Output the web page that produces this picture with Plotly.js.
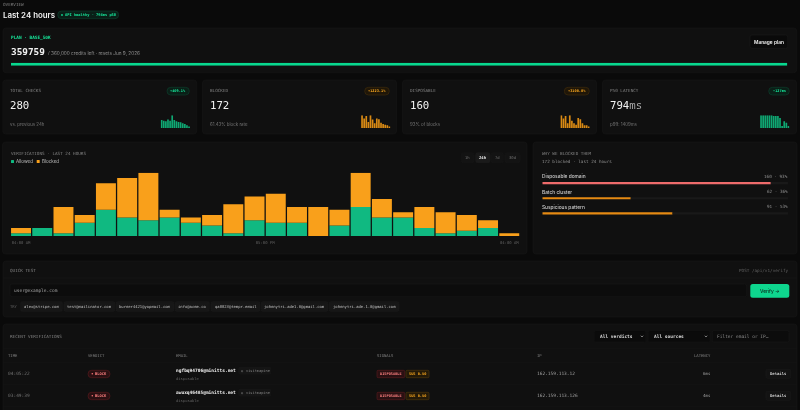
<!DOCTYPE html>
<html><head><meta charset="utf-8">
<script src="https://cdn.plot.ly/plotly-3.0.1.min.js"></script>
<style>html,body{margin:0;padding:0;background:#0a0a0a;overflow:hidden}#chart{width:800px;height:410px;filter:blur(0.3px)}
.point path{shape-rendering:geometricPrecision !important}</style>
</head><body><div id="chart"></div>
<script>
// ---------- data ----------
const hourIndex = [0,1,2,3,4,5,6,7,8,9,10,11,12,13,14,15,16,17,18,19,20,21,22,23];
const allowed = [1,3,1,5,10,7,6,7,5,4,1,6,5,5,0,4,11,7,7,3,1,2,3,0];
const blocked = [2,0,10,3,10,15,18,3,2,4,11,9,11,6,11,6,13,7,2,8,8,6,3,1];
const hourTickLabels = ["04:00 AM","05:00 PM","04:00 AM"];
const hourTickVals = [0,11.5,23];
const sparkIndex = [0,1,2,3,4,5,6,7,8,9,10,11,12,13];
const sparkChecks = [63,58,53,66,58,100,63,53,47,45,37,32,21,11];
const sparkBlocked = [100,74,95,47,100,66,37,74,68,42,32,26,21,11];
const sparkDisposable = [100,74,95,37,100,58,37,26,79,68,37,21,21,11];
const sparkLatency = [100,100,100,100,100,100,95,95,95,79,16,53,42,16];
const reasonLabels = ["Disposable domain","Batch cluster","Suspicious pattern"];
const reasonCounts = [160,62,91];
const reasonPct = [93,36,53];
const creditsLeft = 359759;
const creditsTotal = 360000;
const kpiLabels = ["TOTAL CHECKS","BLOCKED","DISPOSABLE","P50 LATENCY"];
const kpiValues = ["280","172","160","794<span style=\"color:#a8a8a8\">ms</span>"];
const kpiSubs = ["vs. previous 24h","61.43% block rate","93% of blocks","p99: 1409ms"];
const kpiBadges = ["+409.1%","+1223.1%","+3100.0%","−127ms"];
const rangeLabels = ["1h","24h","7d","30d"];
const tryEmails = ["alex@stripe.com","test@mailinator.com","burner4421@yopmail.com","info@acme.co","qa8823@tempr.email","johnnytri.ade1.0@gmail.com","johnnytri.ade.1.0@gmail.com"];
const tableHeaders = ["TIME","VERDICT","EMAIL","SIGNALS","IP","LATENCY"];
const rowTimes = ["04:05:22","03:49:39"];
const rowEmails = ["ngfbq94706@minitts.net","awuxq46485@minitts.net"];
const rowIps = ["162.159.113.12","162.159.113.126"];
const rowLatency = ["6ms","4ms"];

// ---------- style ----------
const MONO = '"DejaVu Sans Mono", monospace', SANS = 'Inter, "Noto Sans", sans-serif';
const GREEN='#10b981', ORANGE='#f9a01b', BG='#0a0a0a', CARD='#101010', EDGE='#191919';
const px=x=>x/800, py=y=>1-y/410;
const shapes=[], annotations=[];
function box(x0,y0,x1,y1,r,fill,line,lw){
  const X0=px(x0),X1=px(x1),Y0=py(y0),Y1=py(y1),rx=r/800,ry=r/410;
  shapes.push({type:'path',xref:'paper',yref:'paper',layer:'below',fillcolor:fill,
    line:{color:line||fill,width:lw===undefined?0.5:lw},
    path:`M ${X0+rx} ${Y0} L ${X1-rx} ${Y0} Q ${X1} ${Y0} ${X1} ${Y0-ry} L ${X1} ${Y1+ry} Q ${X1} ${Y1} ${X1-rx} ${Y1} L ${X0+rx} ${Y1} Q ${X0} ${Y1} ${X0} ${Y1+ry} L ${X0} ${Y0-ry} Q ${X0} ${Y0} ${X0+rx} ${Y0} Z`});
}
function rule(x0,x1,y,color){shapes.push({type:'line',xref:'paper',yref:'paper',layer:'below',x0:px(x0),x1:px(x1),y0:py(y),y1:py(y),line:{color:color||EDGE,width:0.5}});}
function dot(x,y,r,color){shapes.push({type:'circle',xref:'paper',yref:'paper',layer:'below',x0:px(x-r),x1:px(x+r),y0:py(y-r),y1:py(y+r),fillcolor:color,line:{width:0}});}
function chevron(x,y){shapes.push({type:'path',xref:'paper',yref:'paper',layer:'below',line:{color:'#ccc',width:0.6},path:`M ${px(x-1.2)} ${py(y-0.6)} L ${px(x)} ${py(y+0.7)} L ${px(x+1.2)} ${py(y-0.6)}`});}
function txt(x,y,text,size,color,o){o=o||{};annotations.push({xref:'paper',yref:'paper',x:px(x),y:py(y),text:text,showarrow:false,
  xanchor:o.anchor||'left',yanchor:'middle',borderpad:0,borderwidth:0,
  font:{family:o.family||MONO,size:size,color:color,weight:o.weight||400}});}

// ---------- frame ----------
txt(3,4,'OVERVIEW',4.3,'#808080');
txt(3,15,'Last 24 hours',7.9,'#f2f2f2',{family:SANS,weight:600});
box(57.7,11,118.7,18.7,3.8,'#0a1f17','#0f4a35');
dot(62,15,0.9,'#10d88f');
txt(65,15,'API healthy · 794ms p50',3.7,'#16e89b',{weight:600});

// plan card
box(3,28,796.7,72.7,3,CARD,EDGE);
txt(11,38.3,'PLAN · BASE_50K',4.4,'#16e89b',{weight:600});
txt(11,51.3,String(creditsLeft),9.4,'#f2f2f2',{weight:600});
txt(48,53,'/ 360,000 credits left · resets Jun 9, 2026',4.7,'#909090',{family:SANS});
box(750,35,787.7,48.3,2,BG,'#1c1c1c');
txt(768.8,41.7,'Manage plan',4.8,'#f2f2f2',{family:SANS,weight:600,anchor:'center'});

// KPI cards
const kpiX=[2.7,202.5,402.5,602.5];
const badgeX=[[167,189.3],[364.7,389.3],[564.3,589.3],[768.7,789.3]];
const badgeColors=[['#0a1f17','#0f4a35','#16e89b'],['#1f1608','#4d340c','#ffab1f'],['#1f1608','#4d340c','#ffab1f'],['#0a1f17','#0f4a35','#16e89b']];
kpiLabels.forEach((l,i)=>{
  const x=kpiX[i];
  box(x,80,x+194,134,3,CARD,EDGE);
  txt(x+7.3,91,l,4.3,'#808080');
  txt(x+7.3,105,kpiValues[i],10.7,'#f2f2f2',{weight:500});
  txt(x+7.3,124.3,kpiSubs[i],4.4,'#757575',{family:SANS});
  const c=badgeColors[i];
  box(badgeX[i][0],87.3,badgeX[i][1],95,3.8,c[0],c[1]);
  txt((badgeX[i][0]+badgeX[i][1])/2,91.2,kpiBadges[i],3.6,c[2],{anchor:'center',weight:600});
});

// chart card
box(2.5,142,527,254,3,CARD,EDGE);
txt(11,153.3,'VERIFICATIONS · LAST 24 HOURS',4.3,'#808080');
box(11,160,14,163,0.5,GREEN,GREEN,0);
txt(16,161.3,'Allowed',4.5,'#bdbdbd',{family:SANS});
box(36.7,160,39.7,163,0.5,ORANGE,ORANGE,0);
txt(42,161.3,'Blocked',4.5,'#bdbdbd',{family:SANS});
const rangeBoxes=[[461.3,474],[475.7,490],[491,503.3],[505,520]];
rangeLabels.forEach((l,i)=>{
  const a=i===1, b=rangeBoxes[i];
  box(b[0],152.7,b[1],162.7,2,a?'#1a1a1a':'#131313',a?'#1f1f1f':'#181818');
  txt((b[0]+b[1])/2,157.7,l,3.9,a?'#eeeeee':'#707070',{anchor:'center',weight:a?600:400});
});

// reasons card
box(533,142,797,254,3,CARD,EDGE);
txt(542.3,153.3,'WHY WE BLOCKED THEM',4.3,'#808080');
txt(542.3,161.3,'172 blocked · last 24 hours',4.3,'#909090');
[176.3,191.7,206.7].forEach((y,i)=>{
  txt(542.3,y,reasonLabels[i],4.8,'#cccccc',{family:SANS,weight:500});
  txt(788,y,reasonCounts[i]+' · '+reasonPct[i]+'%',4.3,'#909090',{anchor:'right'});
});

// quick test
box(3,261,797,317,3,CARD,EDGE);
txt(10,270,'QUICK TEST',4.3,'#808080');
txt(789,270,'POST /api/v1/verify',4.3,'#606060',{anchor:'right'});
rule(3,797,278);
box(10,284,746.7,296.7,2,'#0c0c0c','#1a1a1a');
txt(14,290.5,'user@example.com',4.5,'#a0a0a0');
box(750.3,284,789.3,297.7,2.5,'#0ed68e','#0ed68e',0);
txt(769.8,290.6,'Verify →',4.8,'#0a2a1d',{family:SANS,weight:500,anchor:'center'});
txt(10,306.3,'TRY',3.8,'#606060');
const chipX=[[20.7,62.3],[64,114.7],[116,174],[175.3,209.3],[211,260],[261.3,328],[329.3,399]];
tryEmails.forEach((e,i)=>{
  box(chipX[i][0],301.7,chipX[i][1],311.3,1.5,'#171717','#1c1c1c');
  txt((chipX[i][0]+chipX[i][1])/2,306.4,e,3.85,'#c0c0c0',{anchor:'center'});
});

// recent verifications
box(3,324,797,430,3,CARD,EDGE);
txt(10,336,'RECENT VERIFICATIONS',4.3,'#808080');
box(594.3,330.7,645.7,342,1.5,'#0b0b0b','#151515');
txt(600,336.3,'All verdicts',4.5,'#dddddd',{weight:600}); chevron(642,336.3);
box(648.3,330.7,710,342,1.5,'#0b0b0b','#151515');
txt(653.7,336.3,'All sources',4.5,'#dddddd',{weight:600}); chevron(706,336.3);
box(712.3,330.7,789,342,1.5,'#0c0c0c','#1a1a1a');
txt(716.7,336.3,'Filter email or IP…',4.5,'#8c8c8c');
rule(3,797,348.3);
const headerX=[8.3,88,176,377,536.7];
headerX.forEach((x,i)=>txt(x,355.7,tableHeaders[i],3.9,'#808080'));
txt(710.7,355.7,tableHeaders[5],3.9,'#808080',{anchor:'right'});
rule(3,797,362.3);
rowTimes.forEach((t,i)=>{
  const d=i*22, y=373.7+d;
  txt(8.3,y,t,4.5,'#707070');
  box(88,370.3+d,110,377.7+d,3.6,'#2a1012','#6b1f22');
  dot(92.3,y,0.8,'#f87171');
  txt(95,y,'BLOCK',3.7,'#ff8080',{weight:600});
  txt(176,370.3+d,rowEmails[i],4.53,'#eeeeee',{weight:600});
  txt(176,378+d,'disposable',3.8,'#606060');
  box(238.7,367.3+d,270.7,374+d,1.2,'#151515','#1a1a1a');
  txt(241,370.7+d,'◍',3.6,'#707070');
  txt(246,370.7+d,'visitmapine',3.6,'#808080');
  box(377,370.3+d,404.7,377.7+d,1.2,'#2a1012','#6b1f22');
  txt(390.8,y,'DISPOSABLE',3.6,'#ff8080',{anchor:'center',weight:600});
  box(406,370.3+d,429,377.7+d,1.2,'#241a08','#5c400f');
  txt(417.5,y,'SUS 0.50',3.6,'#ffab1f',{anchor:'center',weight:600});
  txt(536.7,y,rowIps[i],4.5,'#a0a0a0');
  txt(710.7,y,rowLatency[i],4.1,'#a0a0a0',{anchor:'right'});
  box(766,369.3+d,790.7,378.3+d,1.5,'#131313','#1c1c1c');
  txt(778.3,373.8+d,'Details',3.9,'#cccccc',{anchor:'center',weight:600});
  rule(3,797,384.7+d);
});

// ---------- traces ----------
const layout={width:800,height:410,margin:{l:0,r:0,t:0,b:0},paper_bgcolor:BG,plot_bgcolor:'rgba(0,0,0,0)',
  showlegend:false,barmode:'stack',shapes,annotations,font:{family:MONO,color:'#888'}};
const data=[];
function axes(n,x0,x1,y0,y1,xo,yo){
  const s=n===1?'':String(n);
  layout['xaxis'+s]=Object.assign({domain:[px(x0),px(x1)],anchor:'y'+s,visible:false,fixedrange:true},xo);
  layout['yaxis'+s]=Object.assign({domain:[py(y1),py(y0)],anchor:'x'+s,visible:false,fixedrange:true},yo);
  return s;
}
// main stacked bars
axes(1,10.4,519.9,172.7,236,{range:[-0.5,23.5],visible:true,showgrid:false,zeroline:false,showline:false,ticks:'',
  tickmode:'array',tickvals:hourTickVals,ticktext:hourTickLabels,ticklabelstandoff:3,tickfont:{family:MONO,size:3.9,color:'#606060'}},{range:[0,24]});
data.push({type:'bar',name:'Allowed',x:hourIndex,y:allowed,width:0.94,marker:{color:GREEN,line:{width:0}},hoverinfo:'skip'});
data.push({type:'bar',name:'Blocked',x:hourIndex,y:blocked,width:0.94,marker:{color:ORANGE,line:{width:0}},hoverinfo:'skip'});
// sparklines
[[160.6,sparkChecks,'#0fa873'],[361,sparkBlocked,'#d98a14'],[560.3,sparkDisposable,'#d98a14'],[760,sparkLatency,'#0fa873']].forEach((sp,i)=>{
  const s=axes(i+2,sp[0],sp[0]+29.5,115.3,128,{range:[-0.5,13.5]},{range:[0,100]});
  data.push({type:'bar',x:sparkIndex,y:sp[1],width:0.8,xaxis:'x'+s,yaxis:'y'+s,marker:{color:sp[2],line:{width:0}},hoverinfo:'skip'});
});
// reason bars
const s6=axes(6,542.3,788,175.5,221,{range:[0,100]},{range:[2.5,-0.5]});
const rIdx=[0,1,2];
data.push({type:'bar',orientation:'h',y:rIdx,x:reasonPct,width:0.14,xaxis:'x'+s6,yaxis:'y'+s6,marker:{color:['#ee6b6b','#e58a13','#e58a13'],line:{width:0}},hoverinfo:'skip'});
data.push({type:'bar',orientation:'h',y:rIdx,x:reasonPct.map(v=>100-v),width:0.14,xaxis:'x'+s6,yaxis:'y'+s6,marker:{color:'#191919',line:{width:0}},hoverinfo:'skip'});
// credits bar
const s7=axes(7,11,787.7,62.8,65.8,{range:[0,creditsTotal]},{range:[-0.5,0.5]});
data.push({type:'bar',orientation:'h',y:[0],x:[creditsLeft],width:1,xaxis:'x'+s7,yaxis:'y'+s7,marker:{color:'#08d88f',line:{width:0}},hoverinfo:'skip'});
data.push({type:'bar',orientation:'h',y:[0],x:[creditsTotal-creditsLeft],width:1,xaxis:'x'+s7,yaxis:'y'+s7,marker:{color:'#191919',line:{width:0}},hoverinfo:'skip'});

Plotly.newPlot('chart',data,layout,{staticPlot:true,displayModeBar:false});
</script></body></html>
